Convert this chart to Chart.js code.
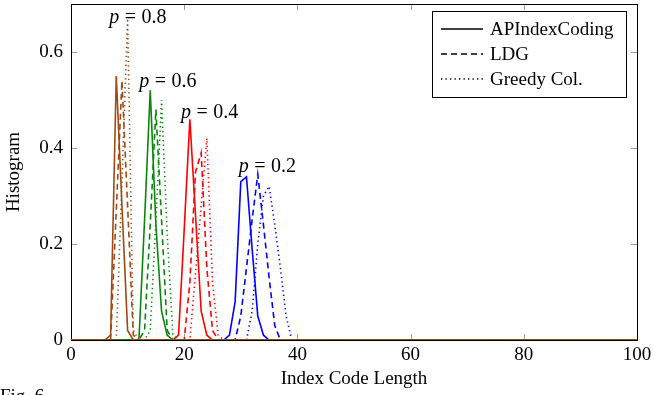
<!DOCTYPE html>
<html><head><meta charset="utf-8">
<script src="https://cdn.jsdelivr.net/npm/chart.js@4/dist/chart.umd.min.js"></script>
<style>html,body{margin:0;padding:0;background:#fff;}canvas{display:block}</style>
</head><body>
<canvas id="c" width="654" height="395"></canvas>
<script>
// ---- tick values / labels ----
const xTicks = [0, 20, 40, 60, 80, 100];
const xTickLabels = ['0', '20', '40', '60', '80', '100'];
const yTicks = [0, 0.2, 0.4, 0.6];
const yTickLabels = ['0', '0.2', '0.4', '0.6'];
const methods = ['APIndexCoding', 'LDG', 'Greedy Col.'];
const probabilities = ['0.8', '0.6', '0.4', '0.2'];

// ---- series: index code length (x) and histogram value (y) ----
// p = 0.8
const p08_ap_x  = [0, 6, 7, 8, 9, 10, 11, 100];
const p08_ap_y  = [0, 0, 0.01, 0.55, 0.28, 0.02, 0, 0];
const p08_ldg_x = [0, 7, 8, 9, 10, 11, 12, 100];
const p08_ldg_y = [0, 0, 0.27, 0.54, 0.28, 0.01, 0, 0];
const p08_gc_x  = [0, 8, 9, 10, 11, 12, 100];
const p08_gc_y  = [0, 0, 0.33, 0.67, 0.02, 0, 0];
// p = 0.6
const p06_ap_x  = [0, 12, 13, 14, 15, 16, 17, 18, 100];
const p06_ap_y  = [0, 0, 0.25, 0.52, 0.24, 0.06, 0.01, 0, 0];
const p06_ldg_x = [0, 12, 13, 14, 15, 16, 17, 18, 100];
const p06_ldg_y = [0, 0, 0.02, 0.24, 0.48, 0.25, 0.02, 0, 0];
const p06_gc_x  = [0, 13, 14, 15, 16, 17, 18, 19, 100];
const p06_gc_y  = [0, 0, 0.02, 0.25, 0.50, 0.22, 0.01, 0, 0];
// p = 0.4
const p04_ap_x  = [0, 18, 19, 20, 21, 22, 23, 24, 25, 100];
const p04_ap_y  = [0, 0, 0.01, 0.23, 0.46, 0.26, 0.06, 0.01, 0, 0];
const p04_ldg_x = [0, 20, 21, 22, 23, 24, 25, 26, 100];
const p04_ldg_y = [0, 0, 0.12, 0.35, 0.39, 0.15, 0.02, 0, 0];
const p04_gc_x  = [0, 21, 22, 23, 24, 25, 26, 27, 100];
const p04_gc_y  = [0, 0, 0.14, 0.28, 0.42, 0.12, 0.01, 0, 0];
// p = 0.2
const p02_ap_x  = [0, 27, 28, 29, 30, 31, 32, 33, 34, 35, 100];
const p02_ap_y  = [0, 0, 0.01, 0.08, 0.33, 0.34, 0.19, 0.05, 0.01, 0, 0];
const p02_ldg_x = [0, 29, 30, 31, 32, 33, 34, 35, 36, 37, 100];
const p02_ldg_y = [0, 0, 0.05, 0.15, 0.25, 0.345, 0.24, 0.13, 0.03, 0, 0];
const p02_gc_x  = [0, 31, 32, 33, 34, 35, 36, 37, 38, 39, 100];
const p02_gc_y  = [0, 0, 0.06, 0.20, 0.30, 0.32, 0.24, 0.15, 0.05, 0, 0];

// ---- styles ----
const groupColors = ['#9E4A14', '#0A870A', '#FF0000', '#0000FF'];
const methodDash = [[], [6, 4], [1.3, 3.2]];
const serif = "'Liberation Serif', 'Times New Roman', serif";

const groups = [
  [[p08_ap_x, p08_ap_y], [p08_ldg_x, p08_ldg_y], [p08_gc_x, p08_gc_y]],
  [[p06_ap_x, p06_ap_y], [p06_ldg_x, p06_ldg_y], [p06_gc_x, p06_gc_y]],
  [[p04_ap_x, p04_ap_y], [p04_ldg_x, p04_ldg_y], [p04_gc_x, p04_gc_y]],
  [[p02_ap_x, p02_ap_y], [p02_ldg_x, p02_ldg_y], [p02_gc_x, p02_gc_y]]
];

const datasets = [];
groups.forEach((g, gi) => {
  g.forEach(([xs, ys], mi) => {
    datasets.push({
      label: methods[mi] + ' (p = ' + probabilities[gi] + ')',
      data: xs.map((x, i) => ({x: x, y: ys[i]})),
      borderColor: groupColors[gi],
      borderWidth: 1.6,
      borderDash: methodDash[mi],
      pointRadius: 0,
      tension: 0,
      fill: false
    });
  });
});

// positions of the "p = ..." annotations (data coordinates)
const annotationPos = [[11.8, 0.671], [17.1, 0.539], [24.5, 0.474], [34.7, 0.36]];

function line(ctx, x1, y1, x2, y2) { ctx.beginPath(); ctx.moveTo(x1, y1); ctx.lineTo(x2, y2); ctx.stroke(); }

const decor = {
  id: 'decor',
  beforeDatasetsDraw(chart) {
    const {ctx, chartArea: a, scales: {x, y}} = chart;
    ctx.save();
    ctx.strokeStyle = '#9a9a9a'; ctx.lineWidth = 1;
    const tl = 6;
    xTicks.forEach(v => {
      const px = Math.round(x.getPixelForValue(v)) + 0.5;
      line(ctx, px, a.bottom, px, a.bottom - tl);
      line(ctx, px, a.top, px, a.top + tl);
    });
    yTicks.forEach(v => {
      const py = Math.round(y.getPixelForValue(v)) + 0.5;
      line(ctx, a.left, py, a.left + tl, py);
      line(ctx, a.right, py, a.right - tl, py);
    });
    ctx.strokeStyle = '#000';
    ctx.strokeRect(Math.round(a.left) + 0.5, Math.round(a.top) + 0.5, Math.round(a.right - a.left), Math.round(a.bottom - a.top));
    ctx.restore();
  },
  afterDraw(chart) {
    const {ctx, scales: {x, y}} = chart;
    ctx.save();
    // annotations
    ctx.fillStyle = '#000';
    ctx.textBaseline = 'middle';
    annotationPos.forEach((pos, i) => {
      const fi = 'italic 20px ' + serif, fr = '20px ' + serif;
      ctx.font = fi; const wp = ctx.measureText('p').width;
      ctx.font = fr; const we = ctx.measureText('=').width;
      const wn = ctx.measureText(probabilities[i]).width;
      const gap = 5.5;
      const total = wp + gap + we + gap + wn;
      let cx = x.getPixelForValue(pos[0]) - total / 2;
      const cy = y.getPixelForValue(pos[1]);
      ctx.textAlign = 'left';
      ctx.font = fi; ctx.fillText('p', cx, cy); cx += wp + gap;
      ctx.font = fr; ctx.fillText('=', cx, cy); cx += we + gap;
      ctx.fillText(probabilities[i], cx, cy);
    });
    // legend
    const L = {x: 432.5, y: 11.5, w: 194, h: 86};
    ctx.fillStyle = '#fff';
    ctx.fillRect(L.x, L.y, L.w, L.h);
    ctx.strokeStyle = '#000'; ctx.lineWidth = 1;
    ctx.strokeRect(L.x, L.y, L.w, L.h);
    const rows = [29, 54, 79];
    methods.forEach((m, i) => {
      ctx.save();
      ctx.strokeStyle = '#000'; ctx.lineWidth = 1.6;
      ctx.setLineDash(methodDash[i]);
      line(ctx, 441, rows[i], 483, rows[i]);
      ctx.restore();
      ctx.fillStyle = '#000';
      ctx.font = '19px ' + serif;
      ctx.textAlign = 'left'; ctx.textBaseline = 'middle';
      ctx.fillText(m, 490, rows[i] + 1);
    });
    // caption fragment at the bottom edge
    ctx.font = '19px ' + serif;
    ctx.textBaseline = 'alphabetic'; ctx.textAlign = 'left';
    ctx.fillText('Fig. 6.', 0, 402);
    ctx.restore();
  }
};

new Chart(document.getElementById('c'), {
  type: 'line',
  data: {datasets: datasets},
  plugins: [decor],
  options: {
    responsive: false,
    animation: false,
    devicePixelRatio: 1,
    layout: {padding: {left: 0, right: 17, top: 4, bottom: 0}},
    plugins: {legend: {display: false}, tooltip: {enabled: false}},
    scales: {
      x: {
        type: 'linear', min: 0, max: 100,
        afterBuildTicks: s => { s.ticks = xTicks.map(v => ({value: v})); },
        afterFit: s => { s.height = 55; s.paddingLeft = 0; s.paddingRight = 0; },
        grid: {display: false, drawTicks: false},
        border: {display: false},
        ticks: {
          padding: 4, color: '#000', maxRotation: 0, autoSkip: false,
          font: {family: serif, size: 19},
          callback: (v, i) => xTickLabels[i]
        },
        title: {display: true, text: 'Index Code Length', color: '#000',
          font: {family: serif, size: 19}, padding: {top: 0, bottom: 5}}
      },
      y: {
        type: 'linear', min: 0, max: 0.7,
        afterBuildTicks: s => { s.ticks = yTicks.map(v => ({value: v})); },
        afterFit: s => { s.width = 71; s.paddingTop = 0; s.paddingBottom = 0; },
        grid: {display: false, drawTicks: false},
        border: {display: false},
        ticks: {
          padding: 8, color: '#000', autoSkip: false,
          font: {family: serif, size: 19},
          callback: (v, i) => yTickLabels[i]
        },
        title: {display: true, text: 'Histogram', color: '#000',
          font: {family: serif, size: 19}, padding: {top: 3, bottom: 0}}
      }
    }
  }
});
</script>
</body></html>
